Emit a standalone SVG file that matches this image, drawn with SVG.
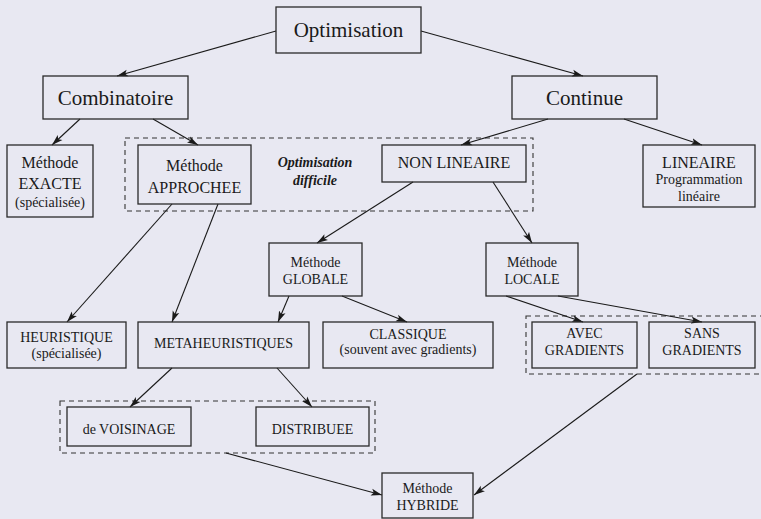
<svg xmlns="http://www.w3.org/2000/svg" width="761" height="519" viewBox="0 0 761 519">
  <style>
    .box { fill: none; stroke: #2a2a2a; stroke-width: 1.3; }
    .group { fill: none; stroke: #333; stroke-width: 1.1; stroke-dasharray: 5 4; }
    .edge { fill: none; stroke: #1a1a1a; stroke-width: 1.1; marker-end: url(#arrow); }
    text { fill: #1a1a1a; text-anchor: middle; }
    .big { font-size: 21px; }
    .mid { font-size: 16px; }
    .sm { font-size: 14px; }
    .note { font-size: 14px; font-weight: bold; font-style: italic; }
  </style>
  <defs>
    <marker id="arrow" markerUnits="userSpaceOnUse" markerWidth="12" markerHeight="8" refX="11" refY="4" orient="auto">
      <path d="M0,0.5 L11,4 L0,7.5 L2.5,4 Z" fill="#1a1a1a"/>
    </marker>
  </defs>

  <rect width="761" height="519" fill="#e8e8f2"/>

  <!-- dashed groupings -->
  <g id="groups">
    <rect class="group" x="125" y="138" width="408" height="73"/>
    <rect class="group" x="526" y="316" width="245" height="58"/>
    <rect class="group" x="60" y="401" width="315" height="52"/>
  </g>

  <g id="connectors">
    <line class="edge" x1="276" y1="31" x2="117" y2="76"/>
    <line class="edge" x1="421" y1="31" x2="583" y2="76"/>
    <line class="edge" x1="80" y1="119" x2="52" y2="145"/>
    <line class="edge" x1="153" y1="119" x2="198" y2="145"/>
    <line class="edge" x1="548" y1="119" x2="461" y2="145"/>
    <line class="edge" x1="624" y1="119" x2="702" y2="145"/>
    <line class="edge" x1="172" y1="204" x2="67" y2="322"/>
    <line class="edge" x1="218" y1="204" x2="172" y2="322"/>
    <line class="edge" x1="413" y1="182" x2="317" y2="243"/>
    <line class="edge" x1="493" y1="182" x2="532" y2="243"/>
    <line class="edge" x1="289" y1="296" x2="278" y2="322"/>
    <line class="edge" x1="342" y1="296" x2="407" y2="322"/>
    <line class="edge" x1="506" y1="296" x2="583" y2="322"/>
    <line class="edge" x1="558" y1="296" x2="702" y2="322"/>
    <line class="edge" x1="172" y1="368" x2="130" y2="407"/>
    <line class="edge" x1="277" y1="368" x2="312" y2="407"/>
    <line class="edge" x1="226" y1="453" x2="382" y2="495"/>
    <line class="edge" x1="637" y1="374" x2="474" y2="495"/>
  </g>

  <g font-family="Liberation Serif, DejaVu Serif, serif">
  <g id="optimisation">
    <rect class="box" x="276" y="7" width="145" height="46"/>
    <text class="big" x="348.5" y="37">Optimisation</text>
  </g>
  <g id="combinatoire">
    <rect class="box" x="43" y="76" width="145" height="43"/>
    <text class="big" x="115.5" y="105">Combinatoire</text>
  </g>
  <g id="continue">
    <rect class="box" x="512" y="76" width="145" height="43"/>
    <text class="big" x="584.5" y="105">Continue</text>
  </g>
  <g id="exacte">
    <rect class="box" x="7" y="145" width="86" height="72"/>
    <text class="mid" x="50" y="168">Méthode</text>
    <text class="mid" x="50" y="189">EXACTE</text>
    <text class="sm" x="50" y="207">(spécialisée)</text>
  </g>
  <g id="approchee">
    <rect class="box" x="138" y="145" width="113" height="59"/>
    <text class="mid" x="194.5" y="171">Méthode</text>
    <text class="mid" x="194.5" y="193">APPROCHEE</text>
  </g>
  <g id="difficile">
    <text class="note" x="315" y="167">Optimisation</text>
    <text class="note" x="315" y="185">difficile</text>
  </g>
  <g id="non-lineaire">
    <rect class="box" x="382" y="145" width="144" height="37"/>
    <text class="mid" x="454" y="168">NON LINEAIRE</text>
  </g>
  <g id="lineaire">
    <rect class="box" x="643" y="145" width="112" height="62"/>
    <text class="mid" x="699" y="168">LINEAIRE</text>
    <text class="sm" x="699" y="184">Programmation</text>
    <text class="sm" x="699" y="201">linéaire</text>
  </g>
  <g id="globale">
    <rect class="box" x="269" y="243" width="93" height="53"/>
    <text class="sm" x="315.5" y="267">Méthode</text>
    <text class="sm" x="315.5" y="284">GLOBALE</text>
  </g>
  <g id="locale">
    <rect class="box" x="486" y="243" width="92" height="53"/>
    <text class="sm" x="532" y="267">Méthode</text>
    <text class="sm" x="532" y="284">LOCALE</text>
  </g>
  <g id="heuristique">
    <rect class="box" x="7" y="322" width="119" height="46"/>
    <text class="sm" x="66.5" y="342">HEURISTIQUE</text>
    <text class="sm" x="66.5" y="358">(spécialisée)</text>
  </g>
  <g id="metaheuristiques">
    <rect class="box" x="138" y="322" width="171" height="46"/>
    <text class="sm" x="223.5" y="348">METAHEURISTIQUES</text>
  </g>
  <g id="classique">
    <rect class="box" x="323" y="322" width="170" height="46"/>
    <text class="sm" x="408" y="339">CLASSIQUE</text>
    <text class="sm" x="408" y="354">(souvent avec gradients)</text>
  </g>
  <g id="avec-gradients">
    <rect class="box" x="532" y="322" width="105" height="46"/>
    <text class="sm" x="584.5" y="338">AVEC</text>
    <text class="sm" x="584.5" y="355">GRADIENTS</text>
  </g>
  <g id="sans-gradients">
    <rect class="box" x="649" y="322" width="106" height="46"/>
    <text class="sm" x="702" y="338">SANS</text>
    <text class="sm" x="702" y="355">GRADIENTS</text>
  </g>
  <g id="voisinage">
    <rect class="box" x="67" y="407" width="124" height="39"/>
    <text class="sm" x="129" y="434">de VOISINAGE</text>
  </g>
  <g id="distribuee">
    <rect class="box" x="256" y="407" width="113" height="39"/>
    <text class="sm" x="312.5" y="434">DISTRIBUEE</text>
  </g>
  <g id="hybride">
    <rect class="box" x="382" y="473" width="91" height="45"/>
    <text class="sm" x="427.5" y="493">Méthode</text>
    <text class="sm" x="427.5" y="510">HYBRIDE</text>
  </g>
  </g>
</svg>
